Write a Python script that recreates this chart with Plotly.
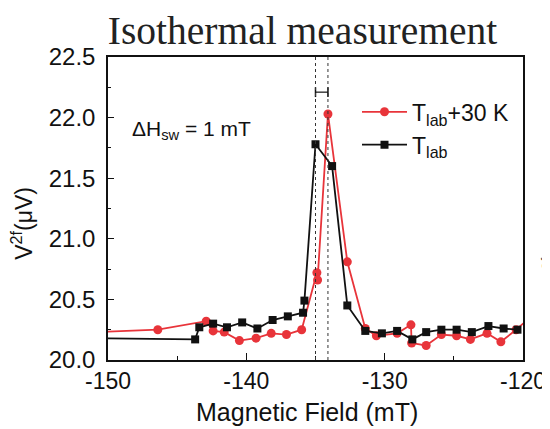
import plotly.graph_objects as go

# Data
red_x = [-151.0, -146.4, -142.9, -142.4, -141.6, -140.5, -139.3, -138.2, -137.1, -136.0,
         -134.9, -134.85, -134.1, -132.7, -131.4, -130.6, -129.1, -128.1, -128.05, -127.0,
         -125.9, -124.8, -123.8, -122.6, -121.6, -120.5, -119.0]
red_y = [20.23, 20.25, 20.32, 20.24, 20.23, 20.16, 20.18, 20.22, 20.21, 20.25,
         20.72, 20.66, 22.03, 20.81, 20.26, 20.20, 20.22, 20.29, 20.14, 20.12,
         20.21, 20.20, 20.17, 20.22, 20.15, 20.25, 20.40]

black_x = [-151.0, -143.7, -143.4, -142.4, -141.4, -140.3, -139.2, -138.1, -137.0, -135.9,
           -135.8, -135.0, -133.8, -132.7, -131.4, -130.2, -129.1, -128.0, -127.0, -125.9,
           -124.8, -123.7, -122.5, -121.4, -120.4]
black_y = [20.18, 20.17, 20.27, 20.30, 20.27, 20.31, 20.26, 20.33, 20.36, 20.39,
           20.49, 21.78, 21.60, 20.45, 20.24, 20.22, 20.24, 20.17, 20.23, 20.25,
           20.25, 20.23, 20.28, 20.26, 20.25]

switch_fields = [-135.0, -134.1]
arrow_y = 22.21

x_ticks = [-150, -140, -130, -120]
y_ticks = [20.0, 20.5, 21.0, 21.5, 22.0, 22.5]

RED = "#e8343a"
BLACK = "#111111"
SANS = "Liberation Sans, Arial, sans-serif"

fig = go.Figure()

fig.add_trace(go.Scatter(
    x=red_x, y=red_y, mode="lines+markers", name="T<sub>lab</sub>+30 K",
    line=dict(color=RED, width=1.8),
    marker=dict(symbol="circle", size=9, color=RED),
))
fig.add_trace(go.Scatter(
    x=black_x, y=black_y, mode="lines+markers", name="T<sub>lab</sub>",
    line=dict(color=BLACK, width=1.8),
    marker=dict(symbol="square", size=8, color=BLACK),
))

# switching-field markers
for xv in switch_fields:
    fig.add_shape(type="line", xref="x", yref="paper", x0=xv, x1=xv, y0=0, y1=1,
                  line=dict(color="#333333", width=1, dash="dot"))

fig.add_trace(go.Scatter(
    x=switch_fields, y=[arrow_y, arrow_y], mode="lines+markers", showlegend=False,
    line=dict(color=BLACK, width=1.2),
    marker=dict(symbol="line-ns", size=7, line=dict(color=BLACK, width=1.5)),
    hoverinfo="skip",
))

fig.add_annotation(x=0.052, y=0.76, xref="paper", yref="paper", xanchor="left", yanchor="middle",
                   text="ΔH<sub>sw</sub> = 1 mT", showarrow=False,
                   font=dict(family=SANS, size=21, color=BLACK))

# y-axis title
fig.add_annotation(x=-0.207, y=0.45, xref="paper", yref="paper", xanchor="center", yanchor="middle",
                   textangle=-90, text="V<sup>2f</sup>(μV)", showarrow=False,
                   font=dict(family=SANS, size=23, color=BLACK))

# x-axis title
fig.add_annotation(x=0.48, y=-0.173, xref="paper", yref="paper", xanchor="center", yanchor="middle",
                   text="Magnetic Field (mT)", showarrow=False,
                   font=dict(family=SANS, size=25, color=BLACK))

# edge of the neighbouring panel label, cut by the picture edge
fig.add_annotation(x=1.07, y=0.36, xref="paper", yref="paper", textangle=-90,
                   text="V<sup>2f</sup>(μV)", showarrow=False, xanchor="center", yanchor="middle",
                   font=dict(family=SANS, size=21, color="#444444"))

# page body adds an 8 px offset; margins compensate for it
fig.update_layout(
    width=550, height=429,
    margin=dict(l=100, r=35, t=49, b=77),
    paper_bgcolor="white", plot_bgcolor="white",
    title=dict(text="Isothermal measurement", x=294.5 / 550, xanchor="center", y=1 - 22 / 429,
               yanchor="middle",
               font=dict(family="Liberation Serif, Times New Roman, serif", size=39.5, color="#222222")),
    legend=dict(x=0.60, y=0.89, xanchor="left", yanchor="top",
                font=dict(family=SANS, size=23, color=BLACK),
                bgcolor="rgba(0,0,0,0)", tracegroupgap=0, itemwidth=45),
    font=dict(family=SANS, color=BLACK),
)

fig.update_xaxes(
    range=[-150, -120], tickvals=x_ticks, ticktext=[str(v) for v in x_ticks],
    ticks="inside", ticklen=7, tickwidth=1.2, tickcolor=BLACK,
    minor=dict(dtick=5, ticks="inside", ticklen=4, tickcolor=BLACK),
    showline=True, linecolor=BLACK, linewidth=1.5, mirror=True, showgrid=False, zeroline=False,
    tickfont=dict(family=SANS, size=23, color=BLACK), automargin=False,
)
fig.update_yaxes(
    range=[20.0, 22.5], tickvals=y_ticks, ticktext=[f"{v:.1f}" for v in y_ticks],
    ticks="inside", ticklen=6, tickwidth=1.2, tickcolor=BLACK,
    minor=dict(dtick=0.25, ticks="inside", ticklen=3, tickcolor=BLACK),
    showline=True, linecolor=BLACK, linewidth=1.5, mirror=True, showgrid=False, zeroline=False,
    tickfont=dict(family=SANS, size=24, color=BLACK), ticklabelstandoff=6, automargin=False,
)

fig.write_html("out.html")
